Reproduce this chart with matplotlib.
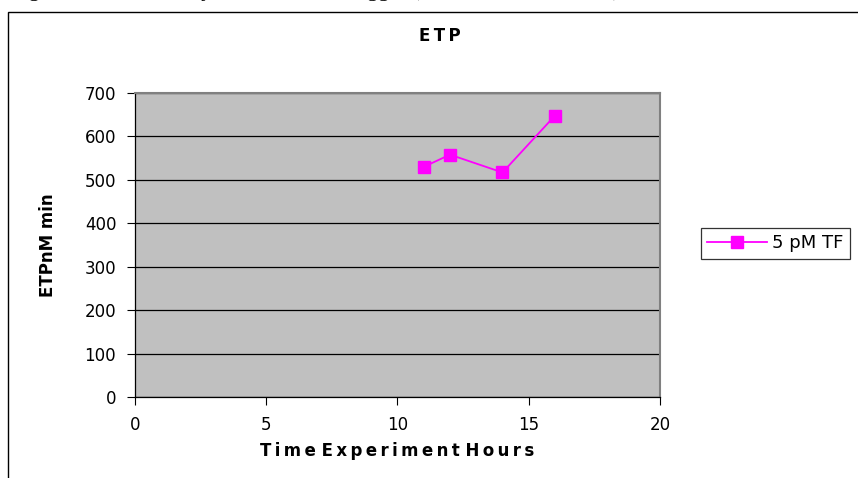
import matplotlib

matplotlib.use("Agg")

import matplotlib.pyplot as plt
from matplotlib.patches import Rectangle

plt.rcParams["font.family"] = ["DejaVu Sans"]

hours = [11, 12, 14, 16]
etp_5pm_tf = [530, 558, 517, 648]
series_name = "5 pM TF"

x_ticks = [0, 5, 10, 15, 20]
y_ticks = [0, 100, 200, 300, 400, 500, 600, 700]

MAGENTA = "#FF00FF"
PLOT_GRAY = "#C0C0C0"
THIN = "\u2009"


def spaced(text):
    # widen the lettering inside each word, keep normal word gaps
    return " ".join(THIN.join(word) for word in text.split(" "))


fig = plt.figure(figsize=(8.58, 4.78), dpi=100)

# page caption running along the top edge, only its tails fall inside
fig.text(0.012, 1 + 4.5 / 478,
         "Figure 5. ETP Activity at Each Hour Trigger (Thrombin Generation)",
         family=["Liberation Serif", "DejaVu Serif"], fontsize=16,
         va="baseline", ha="left")

# chart frame
fig.patches.append(Rectangle((8 / 858, -0.2), 1.2, 0.2 + 1 - 12 / 478,
                             transform=fig.transFigure, fill=False,
                             edgecolor="black", linewidth=1.0, zorder=0))

ax = fig.add_axes([135 / 858, 1 - 397 / 478, 525 / 858, 304 / 478])
ax.set_facecolor(PLOT_GRAY)
ax.plot(hours, etp_5pm_tf, color=MAGENTA, linewidth=1.3, marker="s",
        markersize=8, markeredgecolor=MAGENTA, label=series_name, zorder=3)

ax.set_xlim(0, 20)
ax.set_ylim(0, 700)
ax.set_xticks(x_ticks)
ax.set_yticks(y_ticks)
ax.tick_params(direction="out", length=5.5, width=0.8, labelsize=12,
               colors="black", pad=8)
ax.grid(axis="y", color="black", linewidth=0.9)
ax.set_axisbelow(True)

for side in ("top", "right"):
    ax.spines[side].set_color("#808080")
    ax.spines[side].set_linewidth(1.5)
for side in ("left", "bottom"):
    ax.spines[side].set_color("black")
    ax.spines[side].set_linewidth(0.9)

fig.text(440 / 858, 1 - 36 / 478, spaced("ETP"), fontsize=12,
         fontweight="bold", ha="center", va="center")
fig.text(397 / 858, 1 - 451 / 478, spaced("Time Experiment Hours"),
         fontsize=12, fontweight="bold", ha="center", va="center")
fig.text(48 / 858, 1 - 245 / 478, "ETPnM min", fontsize=12,
         fontweight="bold", rotation=90, ha="center", va="center")

leg = ax.legend(loc="center left", bbox_to_anchor=(701 / 858, 1 - 243.5 / 478),
                bbox_transform=fig.transFigure, frameon=True, fancybox=False,
                fontsize=13, handlelength=3.3, handletextpad=0.3,
                borderpad=0.35, borderaxespad=0)
leg.get_frame().set_edgecolor("black")
leg.get_frame().set_linewidth(0.9)

fig.savefig("out.png", dpi=100)
